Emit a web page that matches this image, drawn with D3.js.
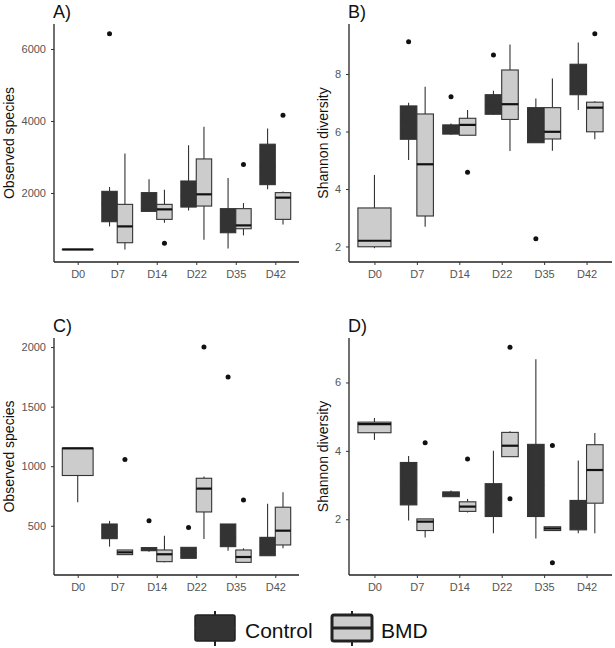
<!DOCTYPE html>
<html>
<head>
<meta charset="utf-8">
<script src="https://cdn.jsdelivr.net/npm/d3@7"></script>
<style>
  html, body { margin: 0; padding: 0; background: #ffffff; }
  svg { display: block; font-family: "Liberation Sans", Arial, sans-serif; }
</style>
</head>
<body>
<svg id="chart" width="615" height="648"></svg>
<script>
// ---------- DATA ----------
const days = ["D0", "D7", "D14", "D22", "D35", "D42"];
const groups = ["Control", "BMD"];

// Box stats per day: [lowerWhisker, q1, median, q3, upperWhisker]; null = no box
const obsA_Control = [null, [1072, 1202, 1700, 2046, 2166], [1489, 1489, 1600, 2010, 2380], [1517, 1609, 1900, 2333, 3327], [459, 896, 1200, 1565, 2417], [2102, 2232, 2700, 3355, 3791]];
const obsA_BMD     = [[425, 428, 431, 434, 437], [431, 618, 1072, 1684, 3095], [1175, 1267, 1545, 1684, 2093], [702, 1637, 1963, 2946, 3837], [821, 1007, 1100, 1565, 1721], [1128, 1267, 1871, 2010, 2040]];
const outA_Control = [["D7", 6426]];
const outA_BMD     = [["D14", 607], ["D35", 2789], ["D42", 4162]];

const shanB_Control = [null, [5.01, 5.73, 6.3, 6.89, 7.0], [5.89, 5.91, 6.1, 6.23, 6.28], [6.57, 6.60, 6.9, 7.28, 7.42], [5.61, 5.61, 6.2, 6.83, 7.15], [6.75, 7.28, 7.8, 8.34, 9.10]];
const shanB_BMD     = [[1.94, 1.99, 2.20, 3.34, 4.49], [2.69, 3.06, 4.86, 6.61, 7.56], [5.87, 5.87, 6.23, 6.46, 6.75], [5.32, 6.42, 6.95, 8.14, 9.03], [5.33, 5.74, 5.99, 6.83, 7.84], [5.73, 5.99, 6.83, 7.02, 7.05]];
const outB_Control = [["D7", 9.12], ["D14", 7.21], ["D22", 8.66], ["D35", 2.27]];
const outB_BMD     = [["D14", 4.58], ["D42", 9.40]];

const obsC_Control = [null, [325, 392, 450, 515, 541], [283, 291, 300, 317, 317], [227, 227, 270, 319, 319], [291, 325, 400, 515, 515], [249, 249, 330, 403, 684]];
const obsC_BMD     = [[697, 922, 1150, 1151, 1155], [258, 258, 277, 297, 297], [193, 199, 261, 297, 417], [389, 616, 812, 899, 913], [193, 193, 238, 297, 311], [311, 339, 459, 656, 782]];
const outC_Control = [["D14", 543], ["D22", 485], ["D35", 1748]];
const outC_BMD     = [["D7", 1056], ["D22", 2000], ["D35", 717]];

const shanD_Control = [null, [1.96, 2.42, 3.0, 3.66, 3.85], [2.66, 2.66, 2.72, 2.80, 2.84], [1.59, 2.08, 2.5, 3.04, 4.0], [1.44, 2.08, 3.0, 4.19, 6.68], [1.59, 1.69, 2.1, 2.55, 3.72]];
const shanD_BMD     = [[4.32, 4.53, 4.78, 4.84, 4.96], [1.47, 1.67, 1.93, 2.01, 2.01], [2.20, 2.23, 2.37, 2.51, 2.59], [3.83, 3.83, 4.15, 4.54, 4.57], [1.67, 1.67, 1.73, 1.78, 1.78], [1.59, 2.47, 3.44, 4.18, 4.52]];
const outD_Control = [];
const outD_BMD     = [["D7", 4.24], ["D14", 3.76], ["D22", 7.03], ["D22", 2.60], ["D35", 4.16], ["D35", 0.73]];

const ticksA = [2000, 4000, 6000];
const ticksB = [2, 4, 6, 8];
const ticksC = [500, 1000, 1500, 2000];
const ticksD = [2, 4, 6];

const domainA = [83, 6694];
const domainB = [1.46, 9.74];
const domainC = [87, 2076];
const domainD = [0.37, 7.30];

// ---------- STYLE / LAYOUT ----------
const fills = { Control: "#333333", BMD: "#cccccc" };
const medianColor = { Control: "#333333", BMD: "#111111" };
const panels = [
  { label: "A)", title: "Observed species", ctrl: obsA_Control, bmd: obsA_BMD, outC: outA_Control, outB: outA_BMD, domain: domainA, ticks: ticksA, x0: 54, x1: 299, y0: 24, y1: 262, titleX: 9 },
  { label: "B)", title: "Shannon diversity", ctrl: shanB_Control, bmd: shanB_BMD, outC: outB_Control, outB: outB_BMD, domain: domainB, ticks: ticksB, x0: 349, x1: 612, y0: 24, y1: 262, titleX: 323 },
  { label: "C)", title: "Observed species", ctrl: obsC_Control, bmd: obsC_BMD, outC: outC_Control, outB: outC_BMD, domain: domainC, ticks: ticksC, x0: 54, x1: 299, y0: 338, y1: 575, titleX: 9 },
  { label: "D)", title: "Shannon diversity", ctrl: shanD_Control, bmd: shanD_BMD, outC: outD_Control, outB: outD_BMD, domain: domainD, ticks: ticksD, x0: 349, x1: 612, y0: 338, y1: 575, titleX: 323 }
];

const svg = d3.select("#chart");

panels.forEach(p => {
  const g = svg.append("g");
  const x = d3.scalePoint().domain(days).range([p.x0, p.x1]).padding(0.6);
  const y = d3.scaleLinear().domain(p.domain).range([p.y1, p.y0]);
  const step = x.step();
  const full = step * 0.78;

  // boxes
  days.forEach((day, i) => {
    const c = p.ctrl[i], b = p.bmd[i];
    const cx = x(day);
    const items = [];
    if (c && b) {
      items.push({ grp: "Control", s: c, left: cx - full / 2, w: full / 2 });
      items.push({ grp: "BMD", s: b, left: cx, w: full / 2 });
    } else if (b) {
      items.push({ grp: "BMD", s: b, left: cx - full / 2, w: full });
    } else if (c) {
      items.push({ grp: "Control", s: c, left: cx - full / 2, w: full });
    }
    items.forEach(it => {
      const [lo, q1, med, q3, hi] = it.s;
      const mx = it.left + it.w / 2;
      g.append("line").attr("x1", mx).attr("x2", mx).attr("y1", y(hi)).attr("y2", y(q3))
        .attr("stroke", "#333333").attr("stroke-width", 1.1);
      g.append("line").attr("x1", mx).attr("x2", mx).attr("y1", y(q1)).attr("y2", y(lo))
        .attr("stroke", "#333333").attr("stroke-width", 1.1);
      g.append("rect").attr("x", it.left).attr("y", y(q3)).attr("width", it.w)
        .attr("height", Math.max(0, y(q1) - y(q3)))
        .attr("fill", fills[it.grp]).attr("stroke", "#333333").attr("stroke-width", 1.1);
      g.append("line").attr("x1", it.left).attr("x2", it.left + it.w).attr("y1", y(med)).attr("y2", y(med))
        .attr("stroke", medianColor[it.grp]).attr("stroke-width", 2.2);
    });
  });

  // outliers
  const outs = [];
  p.outC.forEach(([day, v]) => outs.push({ day, v, grp: "Control" }));
  p.outB.forEach(([day, v]) => outs.push({ day, v, grp: "BMD" }));
  outs.forEach(o => {
    const i = days.indexOf(o.day);
    const both = p.ctrl[i] && p.bmd[i];
    let px = x(o.day);
    if (both) px += (o.grp === "Control" ? -full / 4 : full / 4);
    g.append("circle").attr("cx", px).attr("cy", y(o.v)).attr("r", 2.5).attr("fill", "#111111");
  });

  // axes
  const xAxis = d3.axisBottom(x).tickSize(3).tickPadding(5);
  const yAxis = d3.axisLeft(y).tickValues(p.ticks).tickSize(3).tickPadding(5).tickFormat(d3.format("d"));
  const gx = g.append("g").attr("transform", `translate(0,${p.y1})`).call(xAxis);
  const gy = g.append("g").attr("transform", `translate(${p.x0},0)`).call(yAxis);
  [gx, gy].forEach(a => {
    a.select(".domain").attr("stroke", "#222222").attr("stroke-width", 1.3);
    a.selectAll(".tick line").attr("stroke", "#333333");
    a.selectAll(".tick text").attr("fill", "#555555").style("font-size", "11px")
      .style("font-family", '"Liberation Sans", Arial, sans-serif');
  });
  gx.select(".domain").attr("d", `M${p.x0},0H${p.x1}`);
  gy.select(".domain").attr("d", `M0,${p.y1}V${p.y0}`);

  // y title
  g.append("text")
    .attr("transform", `translate(${p.titleX},${(p.y0 + p.y1) / 2}) rotate(-90)`)
    .attr("text-anchor", "middle").attr("dominant-baseline", "central")
    .attr("fill", "#111111").style("font-size", "14px").text(p.title);

  // panel label
  g.append("text").attr("x", p.x0 - 1).attr("y", p.y0 - 6)
    .attr("fill", "#111111").style("font-size", "18px").text(p.label);
});

// ---------- LEGEND ----------
const legend = svg.append("g");
const keys = [
  { grp: "Control", x: 195, tx: 245 },
  { grp: "BMD", x: 332, tx: 381 }
];
keys.forEach(k => {
  const kw = 40, ky = 615, kh = 26;
  legend.append("line").attr("x1", k.x + kw / 2).attr("x2", k.x + kw / 2).attr("y1", ky - 4).attr("y2", ky + kh + 5)
    .attr("stroke", "#222222").attr("stroke-width", 2);
  legend.append("rect").attr("x", k.x).attr("y", ky).attr("width", kw).attr("height", kh).attr("rx", 2)
    .attr("fill", fills[k.grp]).attr("stroke", "#222222").attr("stroke-width", k.grp === "BMD" ? 3 : 1.5);
  legend.append("line").attr("x1", k.x).attr("x2", k.x + kw).attr("y1", ky + kh / 2).attr("y2", ky + kh / 2)
    .attr("stroke", k.grp === "BMD" ? "#222222" : fills.Control).attr("stroke-width", 3);
  legend.append("text").attr("x", k.tx).attr("y", 638).attr("fill", "#111111")
    .style("font-size", "21px").text(k.grp);
});
</script>
</body>
</html>
